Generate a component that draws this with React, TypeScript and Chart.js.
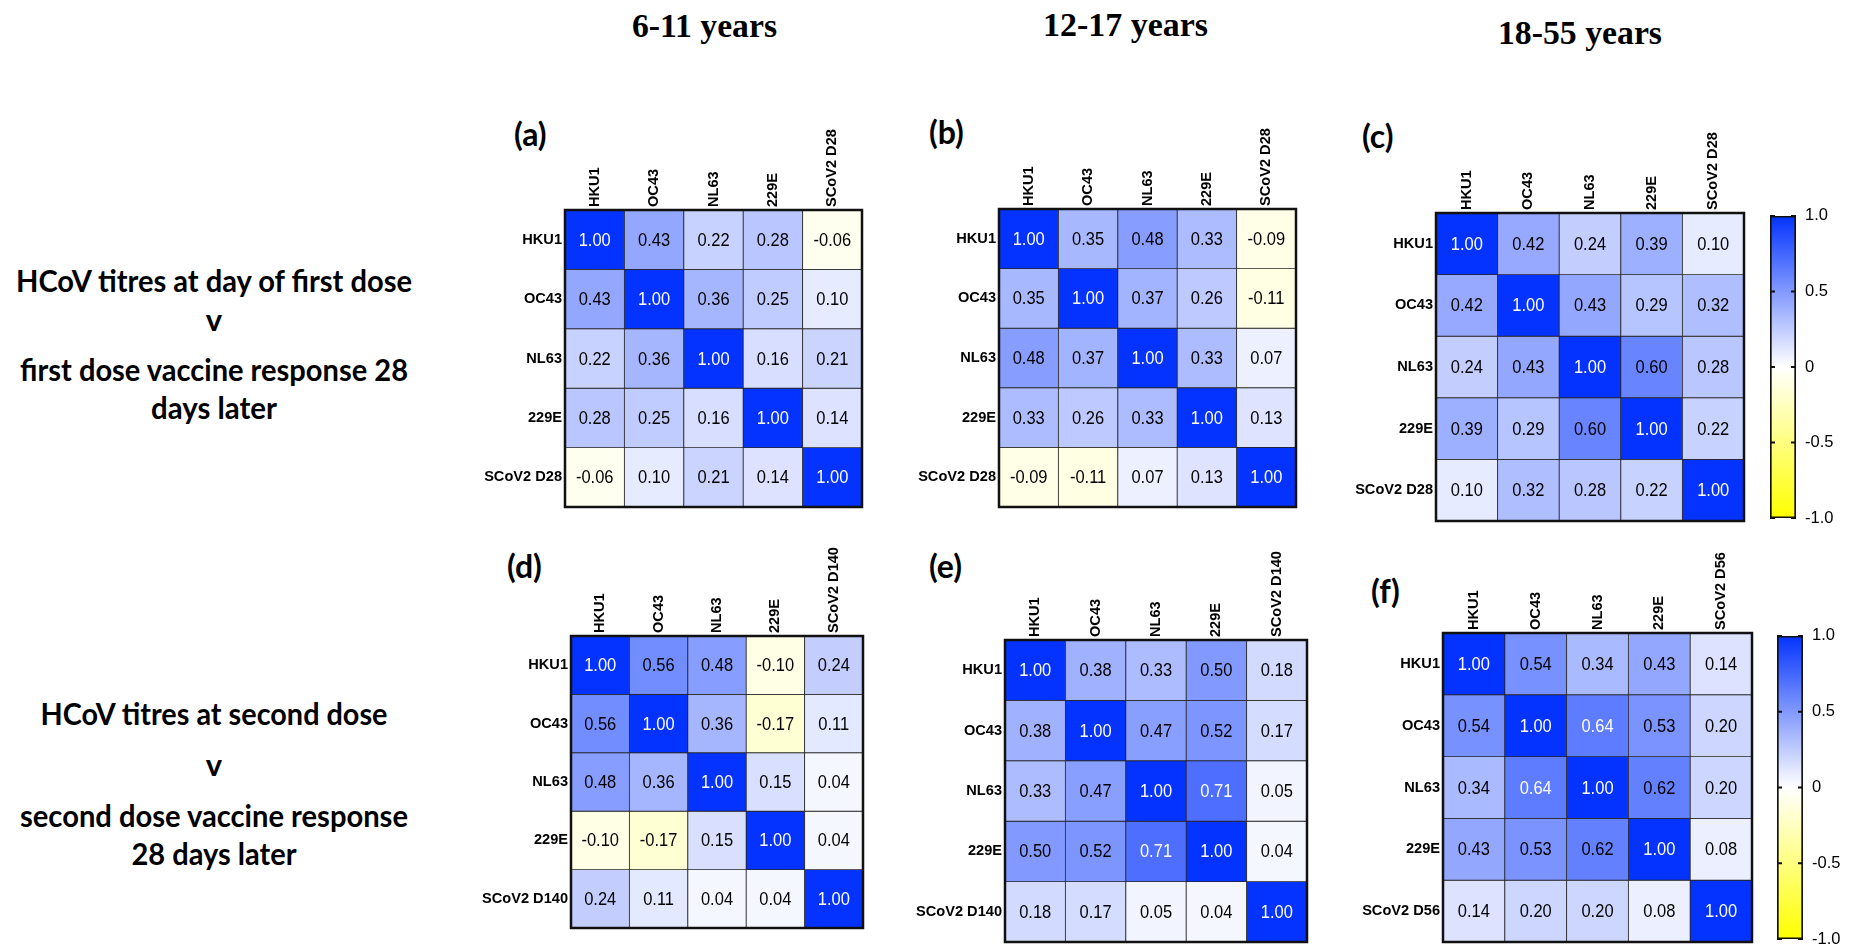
import { useEffect, useRef } from "react";
import { Chart, registerables } from "chart.js";

Chart.register(...registerables);

// Axis labels shared by every correlation matrix
const hcovLabels = ["HKU1", "OC43", "NL63", "229E"];
const labelsD28 = [...hcovLabels, "SCoV2 D28"];
const labelsD140 = [...hcovLabels, "SCoV2 D140"];
const labelsD56 = [...hcovLabels, "SCoV2 D56"];

// First dose: HCoV titres v SARS-CoV-2 response at day 28
const corr611First = [
  [1.0, 0.43, 0.22, 0.28, -0.06],
  [0.43, 1.0, 0.36, 0.25, 0.1],
  [0.22, 0.36, 1.0, 0.16, 0.21],
  [0.28, 0.25, 0.16, 1.0, 0.14],
  [-0.06, 0.1, 0.21, 0.14, 1.0],
];
const corr1217First = [
  [1.0, 0.35, 0.48, 0.33, -0.09],
  [0.35, 1.0, 0.37, 0.26, -0.11],
  [0.48, 0.37, 1.0, 0.33, 0.07],
  [0.33, 0.26, 0.33, 1.0, 0.13],
  [-0.09, -0.11, 0.07, 0.13, 1.0],
];
const corr1855First = [
  [1.0, 0.42, 0.24, 0.39, 0.1],
  [0.42, 1.0, 0.43, 0.29, 0.32],
  [0.24, 0.43, 1.0, 0.6, 0.28],
  [0.39, 0.29, 0.6, 1.0, 0.22],
  [0.1, 0.32, 0.28, 0.22, 1.0],
];

// Second dose: HCoV titres v SARS-CoV-2 response 28 days later
const corr611Second = [
  [1.0, 0.56, 0.48, -0.1, 0.24],
  [0.56, 1.0, 0.36, -0.17, 0.11],
  [0.48, 0.36, 1.0, 0.15, 0.04],
  [-0.1, -0.17, 0.15, 1.0, 0.04],
  [0.24, 0.11, 0.04, 0.04, 1.0],
];
const corr1217Second = [
  [1.0, 0.38, 0.33, 0.5, 0.18],
  [0.38, 1.0, 0.47, 0.52, 0.17],
  [0.33, 0.47, 1.0, 0.71, 0.05],
  [0.5, 0.52, 0.71, 1.0, 0.04],
  [0.18, 0.17, 0.05, 0.04, 1.0],
];
const corr1855Second = [
  [1.0, 0.54, 0.34, 0.43, 0.14],
  [0.54, 1.0, 0.64, 0.53, 0.2],
  [0.34, 0.64, 1.0, 0.62, 0.2],
  [0.43, 0.53, 0.62, 1.0, 0.08],
  [0.14, 0.2, 0.2, 0.08, 1.0],
];

const colourbarTicks = [1, 0.5, 0, -0.5, -1];

const ageGroups = ["6-11 years", "12-17 years", "18-55 years"];
const panelTags = ["(a)", "(b)", "(c)", "(d)", "(e)", "(f)"];
const firstDoseLines = [
  "HCoV titres at day of first dose",
  "v",
  "first dose vaccine response 28",
  "days later",
];
const secondDoseLines = [
  "HCoV titres at second dose",
  "v",
  "second dose vaccine response",
  "28 days later",
];

const BLUE = [4, 51, 255];
const YELLOW = [255, 255, 0];

// Diverging scale: yellow (-1) -> white (0) -> blue (+1)
function corrColour(v: number): string {
  const t = Math.max(-1, Math.min(1, v));
  const end = t >= 0 ? BLUE : YELLOW;
  const k = Math.abs(t);
  const ch = end.map((c) => Math.round(255 + (c - 255) * k));
  return `rgb(${ch[0]}, ${ch[1]}, ${ch[2]})`;
}

const SANS = "'Liberation Sans', Arial, sans-serif";
const TICK_SIZE = 14.6;

type Rect = { left: number; top: number; width: number; height: number };

const AXIS_W = 150;
const AXIS_H = 100;
const PAD = 12;

// Writes each coefficient in the middle of its cell
const cellValues = {
  id: "cellValues",
  afterDatasetsDraw(chart: any) {
    const ctx = chart.ctx;
    ctx.save();
    ctx.font = `16.5px ${SANS}`;
    ctx.textAlign = "center";
    ctx.textBaseline = "middle";
    chart.data.datasets.forEach((ds: any, i: number) => {
      const meta = chart.getDatasetMeta(i);
      meta.data.forEach((bar: any, j: number) => {
        const v = ds.data[j].v as number;
        const { x, y, base } = bar.getProps(["x", "y", "base"], true);
        ctx.save();
        ctx.translate(x, (y + base) / 2 + 1);
        ctx.scale(1, 1.12);
        ctx.fillStyle = v > 0.63 ? "#ffffff" : "#000000";
        ctx.fillText(v.toFixed(2), 0, 0);
        ctx.restore();
      });
    });
    ctx.restore();
  },
};

const gridFrame = {
  id: "gridFrame",
  afterDatasetsDraw(chart: any) {
    const { left, top, right, bottom } = chart.chartArea;
    const ctx = chart.ctx;
    ctx.save();
    ctx.lineWidth = 2.5;
    ctx.strokeStyle = "#111111";
    ctx.strokeRect(left, top, right - left, bottom - top);
    ctx.restore();
  },
};

function HeatPanel({ matrix, labels, rect }: { matrix: number[][]; labels: string[]; rect: Rect }) {
  const ref = useRef<HTMLCanvasElement>(null);
  useEffect(() => {
    if (!ref.current) return;
    const datasets = matrix.map((row, r) => ({
      label: labels[r],
      data: row.map((v, c) => ({ x: labels[c], y: [r, r + 1], v })),
      backgroundColor: (ctx: any) => corrColour(ctx.raw ? ctx.raw.v : 0),
      borderColor: "#262626",
      borderWidth: 0.8,
      borderSkipped: false,
      barPercentage: 1,
      categoryPercentage: 1,
    }));
    const tickFont = { family: SANS, size: TICK_SIZE, weight: "bold" as const };
    const chart = new Chart(ref.current, {
      type: "bar",
      data: { labels, datasets: datasets as any },
      options: {
        animation: false,
        responsive: false,
        devicePixelRatio: 1,
        events: [],
        layout: { padding: { left: 0, top: 0, right: PAD, bottom: PAD } },
        plugins: { legend: { display: false }, tooltip: { enabled: false } },
        scales: {
          x: {
            type: "category",
            position: "top",
            stacked: true,
            offset: true,
            grid: { display: false, drawTicks: false },
            border: { display: false },
            ticks: {
              minRotation: 90,
              maxRotation: 90,
              autoSkip: false,
              padding: 3,
              // centre the upright labels over their columns
              labelOffset: TICK_SIZE * 1.2,
              color: "#000",
              font: tickFont,
            },
            afterFit: (s: any) => {
              s.height = AXIS_H;
            },
          },
          y: {
            type: "linear",
            min: 0,
            max: labels.length,
            reverse: true,
            stacked: false,
            grid: { display: false, drawTicks: false },
            border: { display: false },
            afterBuildTicks: (s: any) => {
              s.ticks = labels.map((_, i) => ({ value: i + 0.5 }));
            },
            ticks: {
              autoSkip: false,
              padding: 3,
              color: "#000",
              font: tickFont,
              callback: (v: any) => labels[Math.floor(Number(v))] ?? "",
            },
            afterFit: (s: any) => {
              s.width = AXIS_W;
            },
          },
        },
      } as any,
      plugins: [cellValues, gridFrame],
    });
    return () => chart.destroy();
  }, [matrix, labels]);
  return (
    <canvas
      ref={ref}
      width={rect.width + AXIS_W + PAD}
      height={rect.height + AXIS_H + PAD}
      style={{ position: "absolute", left: rect.left - AXIS_W, top: rect.top - AXIS_H }}
    />
  );
}

// Short inward tick marks on both edges of the colour bar
const barTicks = {
  id: "barTicks",
  afterDatasetsDraw(chart: any) {
    const ys = chart.scales.y;
    const { left, right } = chart.chartArea;
    const ctx = chart.ctx;
    ctx.save();
    ctx.strokeStyle = "#111111";
    ctx.lineWidth = 2;
    colourbarTicks.forEach((v) => {
      const y = ys.getPixelForValue(v);
      ctx.beginPath();
      ctx.moveTo(left, y);
      ctx.lineTo(left + 5, y);
      ctx.moveTo(right - 5, y);
      ctx.lineTo(right, y);
      ctx.stroke();
    });
    ctx.restore();
  },
};

function ColourBar({ rect }: { rect: Rect }) {
  const ref = useRef<HTMLCanvasElement>(null);
  const padL = 10;
  const padV = 16;
  const canvasW = 1854 - (rect.left - padL);
  useEffect(() => {
    if (!ref.current) return;
    const chart = new Chart(ref.current, {
      type: "bar",
      data: {
        labels: ["r"],
        datasets: [
          {
            data: [[-1, 1]],
            backgroundColor: (ctx: any) => {
              const c = ctx.chart;
              const ys = c.scales.y;
              if (!ys || !c.chartArea) return "#ffffff";
              const g = c.ctx.createLinearGradient(0, ys.getPixelForValue(1), 0, ys.getPixelForValue(-1));
              for (let i = 0; i <= 20; i++) g.addColorStop(i / 20, corrColour(1 - i / 10));
              return g;
            },
            borderColor: "#111111",
            borderWidth: 2,
            borderSkipped: false,
            barPercentage: 1,
            categoryPercentage: 1,
          } as any,
        ],
      },
      options: {
        animation: false,
        responsive: false,
        devicePixelRatio: 1,
        events: [],
        layout: { padding: { left: padL, top: padV, right: 0, bottom: padV } },
        plugins: { legend: { display: false }, tooltip: { enabled: false } },
        scales: {
          x: { type: "category", display: false, offset: true },
          y: {
            type: "linear",
            position: "right",
            min: -1,
            max: 1,
            grid: { display: false, drawTicks: false },
            border: { display: false },
            afterBuildTicks: (s: any) => {
              s.ticks = colourbarTicks.map((v) => ({ value: v }));
            },
            ticks: {
              padding: 9,
              color: "#000",
              font: { family: SANS, size: 16.5 },
              callback: (v: any) => (Number(v) === 0 ? "0" : Number(v).toFixed(1)),
            },
            afterFit: (s: any) => {
              s.width = canvasW - padL - rect.width;
            },
          },
        },
      } as any,
      plugins: [barTicks],
    });
    return () => chart.destroy();
  }, [rect.width, canvasW]);
  return (
    <canvas
      ref={ref}
      width={canvasW}
      height={rect.height + 2 * padV}
      style={{ position: "absolute", left: rect.left - padL, top: rect.top - padV }}
    />
  );
}

const panelRects: Rect[] = [
  { left: 565, top: 210, width: 297, height: 297 },
  { left: 999, top: 209, width: 297, height: 298 },
  { left: 1436, top: 213, width: 308, height: 308 },
  { left: 571, top: 636, width: 292, height: 292 },
  { left: 1005, top: 640, width: 302, height: 302 },
  { left: 1443, top: 633, width: 309, height: 309 },
];
const tagPos = [
  [514, 146],
  [929, 144],
  [1362, 148],
  [507, 578],
  [929, 578],
  [1371, 603],
];
const headerPos = [
  [632, 145, 37],
  [1043, 165, 36],
  [1498, 164, 44],
];
const firstDosePos = [
  [292, 396],
  [331, 0],
  [381, 388],
  [419, 126],
];
const secondDosePos = [
  [725, 347],
  [776, 0],
  [827, 388],
  [865, 165],
];

const CAL = "Lato, 'Open Sans', sans-serif";

export default function App() {
  const panels = [
    { m: corr611First, l: labelsD28 },
    { m: corr1217First, l: labelsD28 },
    { m: corr1855First, l: labelsD28 },
    { m: corr611Second, l: labelsD140 },
    { m: corr1217Second, l: labelsD140 },
    { m: corr1855Second, l: labelsD56 },
  ];
  const sideText = (lines: string[], pos: number[][]) =>
    lines.map((t, i) => (
      <text
        key={t + i}
        x={214}
        y={pos[i][0]}
        textAnchor="middle"
        fontFamily={CAL}
        fontWeight={700}
        fontSize={31}
        fill="#000"
        {...(pos[i][1] ? { textLength: pos[i][1], lengthAdjust: "spacingAndGlyphs" } : {})}
      >
        {t}
      </text>
    ));
  return (
    <div
      style={{
        position: "fixed",
        left: 0,
        top: 0,
        width: 1854,
        height: 950,
        background: "#ffffff",
        overflow: "hidden",
      }}
    >
      <svg width={1854} height={950} style={{ position: "absolute", left: 0, top: 0 }}>
        {ageGroups.map((g, i) => (
          <text
            key={g}
            x={headerPos[i][0]}
            y={headerPos[i][2]}
            fontFamily="'Liberation Serif', 'Times New Roman', serif"
            fontWeight={700}
            fontSize={33}
            textLength={headerPos[i][1]}
            lengthAdjust="spacingAndGlyphs"
            fill="#000"
          >
            {g}
          </text>
        ))}
        {panelTags.map((t, i) => (
          <text key={t} x={tagPos[i][0]} y={tagPos[i][1]} fontFamily={CAL} fontWeight={700} fontSize={32} fill="#000">
            {t}
          </text>
        ))}
        {sideText(firstDoseLines, firstDosePos)}
        {sideText(secondDoseLines, secondDosePos)}
      </svg>
      {panels.map((p, i) => (
        <HeatPanel key={i} matrix={p.m} labels={p.l} rect={panelRects[i]} />
      ))}
      <ColourBar rect={{ left: 1770, top: 213, width: 26, height: 308 }} />
      <ColourBar rect={{ left: 1777, top: 633, width: 26, height: 309 }} />
    </div>
  );
}
